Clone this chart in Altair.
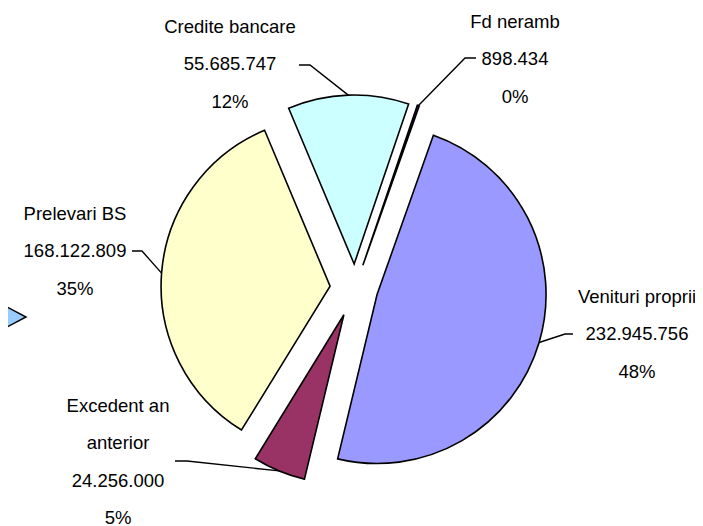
import altair as alt
import numpy as np
import pandas as pd

# ---- data ----
categories = ["Credite bancare", "Fd neramb", "Venituri proprii", "Excedent an anterior", "Prelevari BS"]
values = [55685747, 898434, 232945756, 24256000, 168122809]
name_lines = [["Credite bancare"], ["Fd neramb"], ["Venituri proprii"], ["Excedent an", "anterior"], ["Prelevari BS"]]

# ---- styles / layout ----
colors = ["#CCFFFF", "#660066", "#9999FF", "#993366", "#FFFFCC"]
explode = [24, 24, 23, 29, 25]          # pixel explosion of each slice
W, H = 687, 518
CX, CY, R = 347, 280, 169
START = np.deg2rad(-22.8)
LH = 37.5
# label block centre, leader start and elbow (view pixels)
label_center = [(222, 56), (507, 51), (629, 326), (110, 454), (67, 243)]
leader_start = [(291, 57), (468, 50), (565, 326), (167, 453), (124, 243)]
leader_elbow = [(302, 57), (457, 50), (557, 326), (179, 453), (134, 243)]
FONT = "Liberation Sans, Arial"
FSIZE = 18.5

vals = np.array(values, dtype=float)
total = vals.sum()
c1 = np.cumsum(vals) / total
c0 = c1 - vals / total
mid = START + 2 * np.pi * (c0 + c1) / 2

fmt = lambda v: f"{v:,}".replace(",", ".")
pct = [f"{round(100 * v / total)}%" for v in values]

slices = pd.DataFrame({
    "cat": categories,
    "f0": c0, "f1": c1,
    "cx": CX + np.array(explode) * np.sin(mid),
    "cy": CY - np.array(explode) * np.cos(mid),
})

lines = [n + [fmt(v), p] for n, v, p in zip(name_lines, values, pct)]
labels = pd.DataFrame({
    "cat": categories,
    "lx": [p[0] for p in label_center],
    "ly": [p[1] - (len(l) - 1) * LH / 2 for p, l in zip(label_center, lines)],
    "txt": ["\n".join(l) for l in lines],
})

rows = []
for i, cat in enumerate(categories):
    ex = slices.cx[i] + R * np.sin(mid[i])
    ey = slices.cy[i] - R * np.cos(mid[i])
    pts = [leader_start[i], leader_elbow[i], (ex, ey)]
    for j, (px, py) in enumerate(pts):
        rows.append({"cat": cat, "i": j, "x": px, "y": py})
leaders = pd.DataFrame(rows)

xs = alt.Scale(domain=[0, W], range=[0, W], nice=False, zero=False)
ys = alt.Scale(domain=[0, H], range=[0, H], nice=False, zero=False)
ts = alt.Scale(domain=[0, 1], range=[START, START + 2 * np.pi])

pie = alt.Chart(slices).mark_arc(
    radius=R, stroke="black", strokeWidth=1.6, strokeJoin="miter", opacity=1
).encode(
    theta=alt.Theta("f0:Q", scale=ts, stack=None),
    theta2="f1:Q",
    x=alt.X("cx:Q", scale=xs, axis=None),
    y=alt.Y("cy:Q", scale=ys, axis=None),
    color=alt.Color("cat:N", scale=alt.Scale(domain=categories, range=colors), legend=None),
)

lead = alt.Chart(leaders).mark_line(color="black", strokeWidth=1.4).encode(
    x=alt.X("x:Q", scale=xs, axis=None),
    y=alt.Y("y:Q", scale=ys, axis=None),
    detail="cat:N",
    order="i:O",
)

text = alt.Chart(labels).mark_text(
    align="center", baseline="middle", lineBreak="\n", lineHeight=LH,
    font=FONT, fontSize=FSIZE, color="black"
).encode(
    x=alt.X("lx:Q", scale=xs, axis=None),
    y=alt.Y("ly:Q", scale=ys, axis=None),
    text="txt:N",
)

arrow = alt.Chart(pd.DataFrame({"a": [0]})).mark_point(
    shape="M-0.9,-1L1,0L-0.9,1Z", filled=True, fill="#99CCFF", stroke="black",
    strokeWidth=1.5, size=1300, opacity=1
).encode(x=alt.value(0), y=alt.value(309))

chart = alt.layer(pie, lead, text, arrow).properties(
    width=W, height=H, autosize=alt.AutoSizeParams(type="none"), padding=0
).configure_view(stroke=None)

chart.save("out.html", embed_options={"renderer": "svg", "actions": False})
